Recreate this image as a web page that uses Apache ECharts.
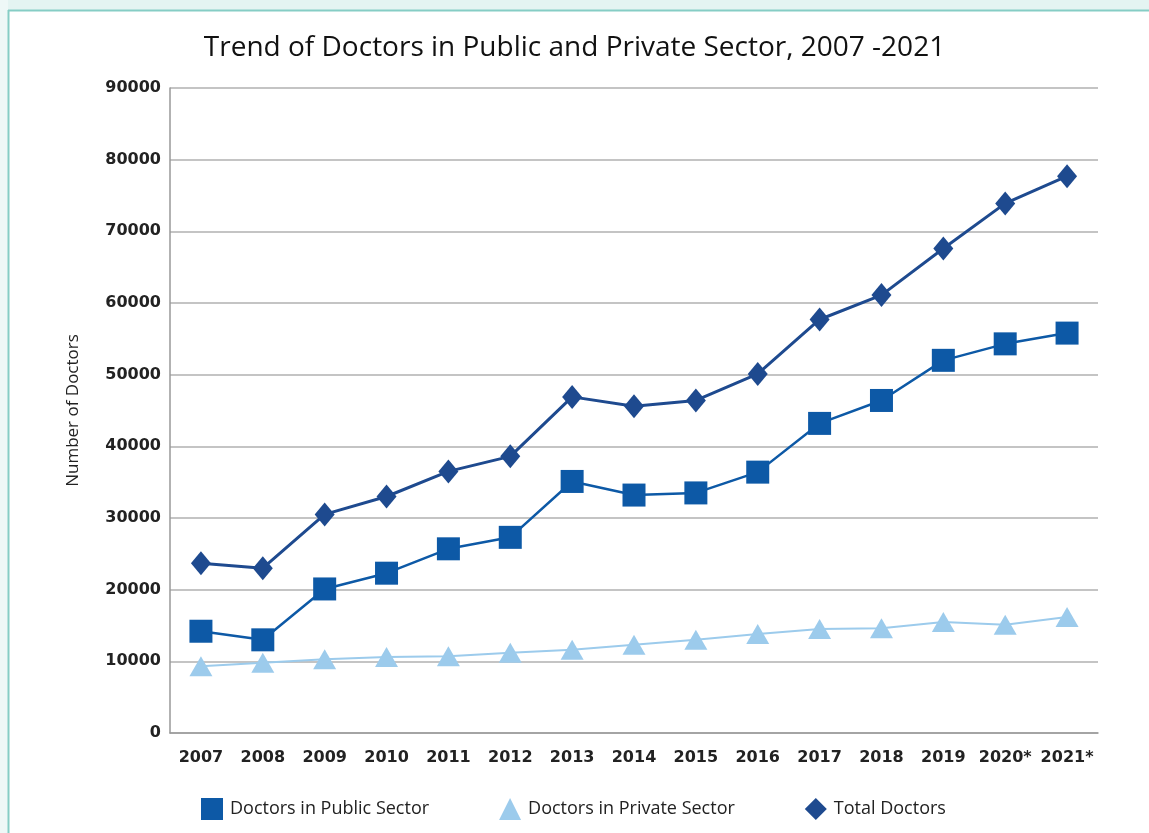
<!DOCTYPE html>
<html>
<head>
<meta charset="utf-8">
<script src="https://cdn.jsdelivr.net/npm/echarts@6/dist/echarts.min.js"></script>
<style>
html,body{margin:0;padding:0;background:#fff;}
#chart{width:1149px;height:833px;}
</style>
</head>
<body>
<div id="chart"></div>
<script>
var years = ['2007','2008','2009','2010','2011','2012','2013','2014','2015','2016','2017','2018','2019','2020*','2021*'];
var publicDoctors = [14200,13000,20100,22300,25700,27300,35100,33200,33500,36400,43200,46400,52000,54300,55800];
var privateDoctors = [9300,9800,10300,10600,10700,11200,11600,12300,13000,13800,14500,14600,15500,15100,16200];
var totalDoctors = [23700,23000,30500,33000,36500,38600,46900,45600,46400,50100,57700,61100,67600,73900,77700];
var yTicks = [0,10000,20000,30000,40000,50000,60000,70000,80000,90000];

var cPublic = '#0d59a6', cPrivate = '#9ccbec', cTotal = '#1e4a8f';

var chart = echarts.init(document.getElementById('chart'));
chart.setOption({
  animation:false,
  backgroundColor:'#fff',
  graphic:[
    {type:'rect', shape:{x:0,y:0,width:1149,height:10}, style:{fill:'#e4f4f2'}, z:-10},
    {type:'rect', shape:{x:0,y:0,width:8,height:833}, style:{fill:'#eef8f7'}, z:-10},
    {type:'line', shape:{x1:8,y1:10.5,x2:1149,y2:10.5}, style:{stroke:'#86cdc5',lineWidth:2}},
    {type:'line', shape:{x1:8.5,y1:10,x2:8.5,y2:833}, style:{stroke:'#86cdc5',lineWidth:2}}
  ],
  title:{
    text:'Trend of Doctors in Public and Private Sector, 2007 -2021',
    left:'center', top:29,
    textStyle:{fontFamily:'Open Sans', fontSize:28, fontWeight:'normal', color:'#111'}
  },
  grid:{left:170, right:51, top:88, bottom:100, containLabel:false},
  legend:{
    left:196, top:793, itemGap:70, itemWidth:22, itemHeight:22,
    textStyle:{fontFamily:'Open Sans', fontSize:18, color:'#222', padding:[0,0,0,2]},
    data:[
      {name:'Doctors in Public Sector', icon:'rect'},
      {name:'Doctors in Private Sector', icon:'triangle'},
      {name:'Total Doctors', icon:'diamond'}
    ]
  },
  xAxis:{
    type:'category', data:years, boundaryGap:true,
    axisLine:{lineStyle:{color:'#999',width:1.5}},
    axisTick:{show:false},
    axisLabel:{fontFamily:'DejaVu Sans', fontWeight:'bold', fontSize:16, color:'#222', margin:17, interval:0}
  },
  yAxis:{
    type:'value', min:0, max:90000, interval:10000,
    name:'Number of Doctors', nameLocation:'middle', nameRotate:90, nameGap:88,
    nameTextStyle:{fontFamily:'Open Sans', fontSize:17, color:'#222'},
    axisLine:{show:true, lineStyle:{color:'#999',width:1.5}},
    axisTick:{show:false},
    axisLabel:{fontFamily:'DejaVu Sans', fontWeight:'bold', fontSize:16, color:'#222', margin:9,
      formatter:function(v){return yTicks.indexOf(v)>=0 ? String(v) : '';}},
    splitLine:{lineStyle:{color:'#b0b0b0',width:1.5}}
  },
  series:[
    {name:'Doctors in Public Sector', type:'line', data:publicDoctors, symbol:'rect', symbolSize:23,
      itemStyle:{color:cPublic}, lineStyle:{color:cPublic,width:2.5}, z:3},
    {name:'Doctors in Private Sector', type:'line', data:privateDoctors, symbol:'triangle', symbolSize:[23,20],
      itemStyle:{color:cPrivate}, lineStyle:{color:cPrivate,width:2}, z:2},
    {name:'Total Doctors', type:'line', data:totalDoctors, symbol:'diamond', symbolSize:[20,24],
      itemStyle:{color:cTotal}, lineStyle:{color:cTotal,width:3}, z:4}
  ]
});
</script>
</body>
</html>
